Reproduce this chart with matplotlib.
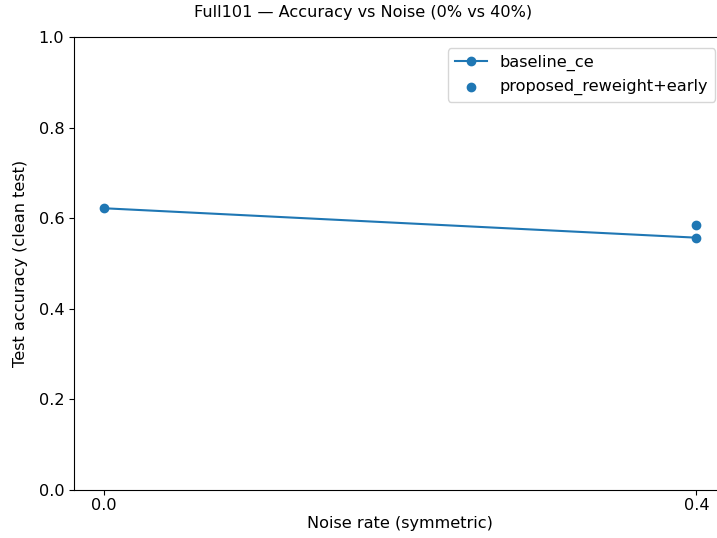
import matplotlib
matplotlib.use("Agg")
import matplotlib.pyplot as plt

# accuracy on the clean test split for each noise rate
noise_rates = [0.0, 0.4]
baseline_acc = [0.622, 0.557]
proposed_noise = [0.4]
proposed_acc = [0.584]

plt.rcParams["font.size"] = 11.6
plt.rcParams["axes.labelsize"] = 11.6
plt.rcParams["xtick.labelsize"] = 11.6
plt.rcParams["ytick.labelsize"] = 11.6
plt.rcParams["legend.fontsize"] = 11.6
plt.rcParams["xtick.major.pad"] = 2.5

fig = plt.figure(figsize=(7.17, 5.38), dpi=100)
ax = fig.add_axes([74 / 717, 48 / 538, (726 - 74) / 717, (490 - 37) / 538])

ax.plot(noise_rates, baseline_acc, marker="o", label="baseline_ce")
ax.scatter(proposed_noise, proposed_acc, label="proposed_reweight+early")

ax.set_xticks(noise_rates)
ax.set_ylim(0, 1.0)
ax.set_xlabel("Noise rate (symmetric)", labelpad=2)
ax.set_ylabel("Test accuracy (clean test)", labelpad=8)
fig.suptitle("Full101 \u2014 Accuracy vs Noise (0% vs 40%)", x=363 / 717, y=1 - 13 / 538,
             va="center", fontsize=11.6)
ax.legend(loc="upper right", borderaxespad=0.7)

fig.savefig("out.png", dpi=100)
